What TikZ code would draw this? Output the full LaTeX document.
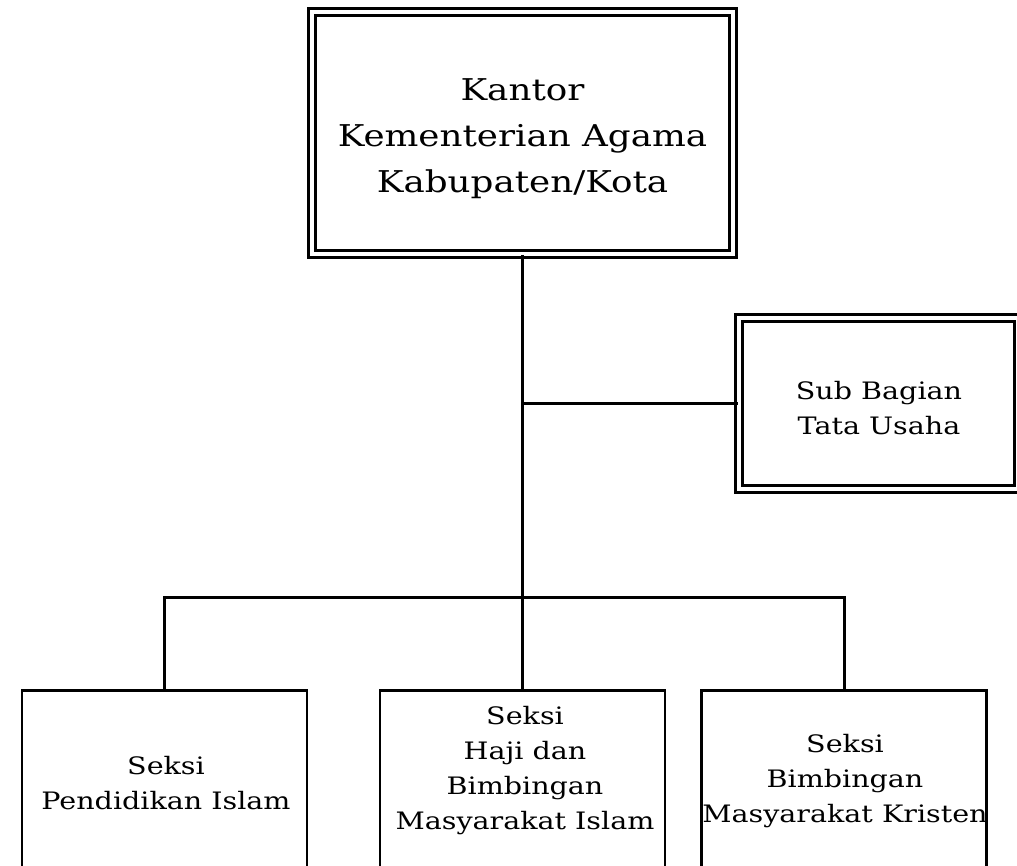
\documentclass[tikz,border=0pt]{standalone}
\usepackage{fontspec}
\setmainfont{DejaVu Serif}[FakeStretch=1.19]
\begin{document}
\begin{tikzpicture}[x=1pt,y=-1pt,line join=miter]
\tikzset{
  dbl/.style={draw, double, double distance=4pt, line width=3pt, inner sep=0pt},
  sec/.style={draw, line width=2.6pt, minimum width=285pt, minimum height=220pt, anchor=north, inner sep=0pt},
  wire/.style={line width=3pt},
  lbl/.style={align=center, font=\fontsize{24}{35}\selectfont},
  biglbl/.style={align=center, font=\fontsize{30}{46}\selectfont}
}
\useasboundingbox (0,0) rectangle (1017,866);
\clip (0,0) rectangle (1017,866);
\node[dbl, minimum width=421pt, minimum height=242pt] (kantor) at (522.5,133) {};
\node[biglbl] (kt) at (522.5,139) {Kantor\\Kementerian Agama\\Kabupaten/Kota};
\node[dbl, minimum width=279pt, minimum height=171pt] (tu) at (878.5,403.5) {};
\node[lbl] (tut) at (879,408) {Sub Bagian\\Tata Usaha};
\node[sec] (s1) at (164.5,689) {};
\node[sec] (s2) at (522.5,689) {};
\node[sec] (s3) at (844,689) {};
\coordinate (bus) at (522.5,597);
\draw[wire] (kantor.south) -- (s2.north);
\draw[wire] (kantor.south |- tu.west) -- (tu.west);
\draw[wire] (s1.north) -- (s1.north |- bus) -- (s3.north |- bus) -- (s3.north);
\node[lbl] (t1) at (166,783) {Seksi\\Pendidikan Islam};
\node[lbl] (t2) at (525,771) {Seksi\\Haji dan\\Bimbingan\\Masyarakat Islam};
\node[lbl] (t3) at (845,781) {Seksi\\Bimbingan\\Masyarakat Kristen};
\end{tikzpicture}
\end{document}
